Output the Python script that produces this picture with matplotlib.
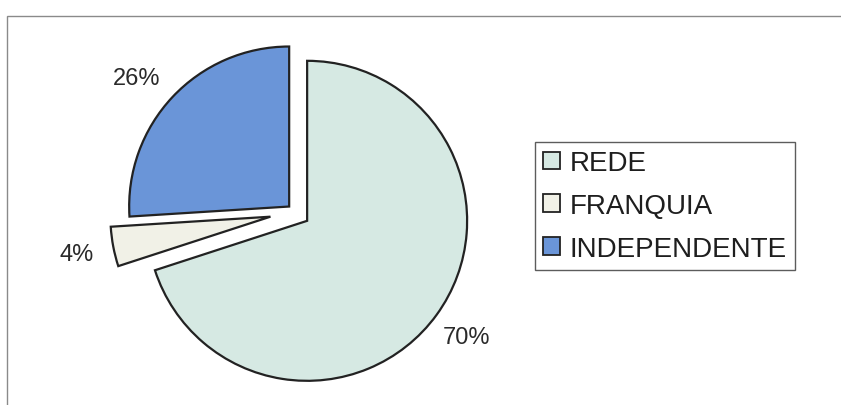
import matplotlib.pyplot as plt
from matplotlib.patches import Rectangle

plt.rcParams["font.family"] = ["Liberation Sans", "DejaVu Sans"]

# market share by store type
categories = ["REDE", "FRANQUIA", "INDEPENDENTE"]
shares = [70, 4, 26]
colors = ["#d6e9e3", "#f1f1e7", "#6a95d8"]
explode_px = [15, 25, 8]

W, H = 841, 406
fig = plt.figure(figsize=(W / 100, H / 100), dpi=100)
ax = fig.add_axes([0, 0, 1, 1])

wedges, texts, autotexts = ax.pie(
    shares,
    labels=None,
    colors=colors,
    explode=explode_px,
    center=(295, H - 213),
    radius=160,
    startangle=90,
    counterclock=False,
    autopct="%1.0f%%",
    pctdistance=1.235,
    wedgeprops=dict(edgecolor="#222222", linewidth=1.6),
    textprops=dict(fontsize=17, color="#2a2a2a"),
)
# the 26% label sits a little further round to the left
x26, y26 = autotexts[2].get_position()
autotexts[2].set_position((x26 - 8, y26 - 7))

ax.set_xlim(0, W)
ax.set_ylim(0, H)
ax.set_aspect("equal")
ax.axis("off")

# chart area border (runs off the right and bottom edges)
fig.patches.append(
    Rectangle((7, -10), W, H - 17 + 10, transform=None, fill=False,
              edgecolor="#8a8a8a", linewidth=1.0)
)

leg = ax.legend(
    wedges,
    categories,
    loc="upper left",
    bbox_to_anchor=(535 / W, 1 - 143 / H),
    bbox_transform=fig.transFigure,
    borderaxespad=0,
    fontsize=20,
    frameon=True,
    fancybox=False,
    handlelength=0.6,
    handleheight=0.6,
    handletextpad=0.35,
    labelspacing=0.6,
    borderpad=0.3,
)
leg.get_frame().set_edgecolor("#333333")
leg.get_frame().set_linewidth(1.0)
for h in leg.legend_handles:
    h.set_linewidth(1.3)
for t in leg.get_texts():
    t.set_color("#1e1e1e")

fig.savefig("out.png", dpi=100)
